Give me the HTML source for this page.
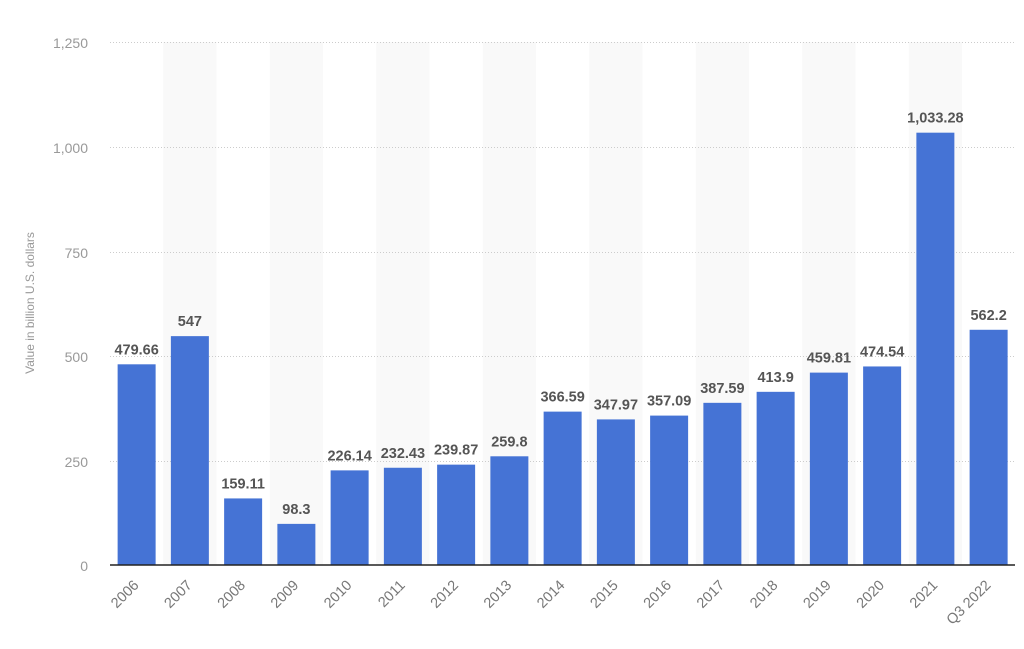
<!DOCTYPE html>
<html><head><style>body{margin:0;background:#fff}svg{display:block}</style></head><body>
<svg width="1024" height="649" xmlns="http://www.w3.org/2000/svg" font-family="Liberation Sans, sans-serif">
<g id="bands" fill="#f9f9f9"></g>
<g stroke="#ccc" stroke-dasharray="1,2" stroke-width="1">
<line x1="110" x2="1015" y1="42.5" y2="42.5"/>
<line x1="110" x2="1015" y1="147.5" y2="147.5"/>
<line x1="110" x2="1015" y1="252.5" y2="252.5"/>
<line x1="110" x2="1015" y1="356.5" y2="356.5"/>
<line x1="110" x2="1015" y1="461.5" y2="461.5"/>
</g>
<g fill="#999" font-size="14" text-anchor="end">
<text x="88" y="48">1,250</text><text x="88" y="153">1,000</text><text x="88" y="258">750</text>
<text x="88" y="362">500</text><text x="88" y="467">250</text><text x="88" y="571">0</text>
</g>
<text transform="translate(34,303) rotate(-90)" fill="#999" font-size="12" text-anchor="middle">Value in billion U.S. dollars</text>
<g id="bars"></g>
<line x1="110" x2="1015" y1="565" y2="565" stroke="#222" stroke-width="1.5"/>
<script>
var d=[["2006",479.66,"479.66"],["2007",547,"547"],["2008",159.11,"159.11"],["2009",98.3,"98.3"],["2010",226.14,"226.14"],["2011",232.43,"232.43"],["2012",239.87,"239.87"],["2013",259.8,"259.8"],["2014",366.59,"366.59"],["2015",347.97,"347.97"],["2016",357.09,"357.09"],["2017",387.59,"387.59"],["2018",413.9,"413.9"],["2019",459.81,"459.81"],["2020",474.54,"474.54"],["2021",1033.28,"1,033.28"],["Q3 2022",562.2,"562.2"]];
var ns="http://www.w3.org/2000/svg",B=document.getElementById("bars"),G=document.getElementById("bands");
function el(t,a,p,txt){var e=document.createElementNS(ns,t);for(var k in a)e.setAttribute(k,a[k]);if(txt)e.textContent=txt;p.appendChild(e);return e;}
var w=53.25;
d.forEach(function(r,i){var c=110+w*(i+0.5),h=r[1]*0.4184,y=565-h;
if(i%2==1)el("rect",{x:c-w/2,y:42,width:w,height:523},G);
el("rect",{x:c-19,y:y,width:38,height:h,fill:"#4573d5"},B);
el("text",{x:c,y:y-10,"text-anchor":"middle","font-size":"14.5","font-weight":"bold",fill:"#555"},B,r[2]);
el("text",{transform:"translate("+(c+3)+",586) rotate(-45)","text-anchor":"end","font-size":"14.5",fill:"#777"},B,r[0]);
});
</script>
</svg>
</body></html>
